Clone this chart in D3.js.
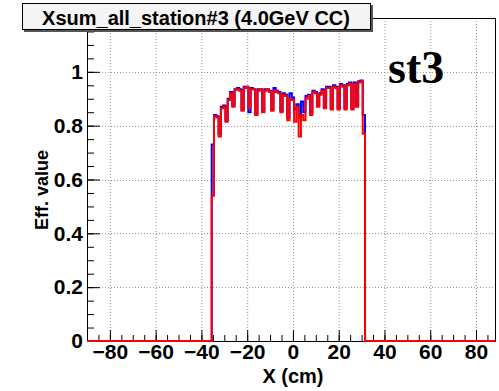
<!DOCTYPE html>
<html>
<head>
<meta charset="utf-8">
<script src="https://cdn.jsdelivr.net/npm/d3@7"></script>
<style>
  body { margin: 0; background: #fff; }
  svg { display: block; }
  text { font-family: "Liberation Sans", Arial, sans-serif; font-weight: bold; }
</style>
</head>
<body>
<svg id="chart" width="499" height="391"></svg>
<script>
// histogram binning (cm)
const binStart = -35.5;
const binWidth = 1;
// efficiency per bin, red = drawn on top, blue = underneath
const redValues = [
  0.54, 0.835, 0.83, 0.76, 0.865, 0.87, 0.815, 0.895, 0.92, 0.87,
  0.933, 0.935, 0.93, 0.855, 0.94, 0.945, 0.865, 0.935, 0.935, 0.84,
  0.93, 0.935, 0.85, 0.93, 0.935, 0.925, 0.855, 0.93, 0.925, 0.92,
  0.85, 0.915, 0.91, 0.82, 0.9, 0.895, 0.815, 0.87, 0.76, 0.84,
  0.82, 0.9, 0.91, 0.84, 0.925, 0.92, 0.87, 0.915, 0.93, 0.865,
  0.94, 0.94, 0.86, 0.945, 0.94, 0.86, 0.95, 0.945, 0.86, 0.95,
  0.955, 0.86, 0.955, 0.87, 0.96, 0.965, 0.77
];
const blueValues = [
  0.73, 0.84, 0.835, 0.77, 0.87, 0.875, 0.82, 0.9, 0.925, 0.875,
  0.935, 0.94, 0.935, 0.86, 0.945, 0.945, 0.85, 0.94, 0.935, 0.845,
  0.935, 0.935, 0.855, 0.935, 0.935, 0.93, 0.86, 0.94, 0.93, 0.925,
  0.855, 0.92, 0.915, 0.83, 0.92, 0.905, 0.86, 0.88, 0.83, 0.89,
  0.85, 0.91, 0.915, 0.85, 0.93, 0.925, 0.875, 0.92, 0.935, 0.87,
  0.945, 0.945, 0.865, 0.95, 0.945, 0.865, 0.955, 0.95, 0.865, 0.955,
  0.96, 0.865, 0.96, 0.875, 0.965, 0.968, 0.84
];
const xTicks = [-80, -60, -40, -20, 0, 20, 40, 60, 80];
const yTicks = [0, 0.2, 0.4, 0.6, 0.8, 1];
const titleText = "Xsum_all_station#3 (4.0GeV CC)";

const svg = d3.select("#chart");
const frame = {left: 87, right: 495, top: 18, bottom: 341};

const x = d3.scaleLinear().domain([-90, 88.3]).range([frame.left, frame.right]);
const y = d3.scaleLinear().domain([0, 1.2]).range([frame.bottom, frame.top]);

// grid
const grid = svg.append("g").attr("stroke", "#999").attr("stroke-width", 1)
    .attr("stroke-dasharray", "1,2");
grid.selectAll(".gx").data(xTicks).enter().append("line")
    .attr("x1", d => x(d) + 0.5).attr("x2", d => x(d) + 0.5)
    .attr("y1", frame.top).attr("y2", frame.bottom);
grid.selectAll(".gy").data(yTicks.filter(d => d > 0)).enter().append("line")
    .attr("x1", frame.left).attr("x2", frame.right)
    .attr("y1", d => Math.round(y(d)) + 0.5).attr("y2", d => Math.round(y(d)) + 0.5);

// frame
svg.append("rect")
    .attr("x", frame.left + 0.5).attr("y", frame.top + 0.5)
    .attr("width", frame.right - frame.left).attr("height", frame.bottom - frame.top)
    .attr("fill", "none").attr("stroke", "#000").attr("stroke-width", 1);

// axes
const xMinor = d3.range(-90, 89, 5);
svg.append("g").attr("transform", `translate(0,${frame.bottom})`)
    .call(d3.axisBottom(x).tickValues(xMinor).tickSize(-6).tickFormat(""))
    .call(g => g.select(".domain").remove());
svg.append("g").attr("transform", `translate(0,${frame.bottom})`)
    .call(d3.axisBottom(x).tickValues(xTicks).tickSize(-11).tickPadding(3))
    .call(g => g.select(".domain").attr("stroke", "#000"))
    .call(g => g.selectAll("text").attr("font-size", 21).attr("fill", "#000"));

const yMinor = d3.range(0, 1.2001, 0.05);
svg.append("g").attr("transform", `translate(${frame.left},0)`)
    .call(d3.axisLeft(y).tickValues(yMinor).tickSize(-7).tickFormat(""))
    .call(g => g.select(".domain").remove());
svg.append("g").attr("transform", `translate(${frame.left},0)`)
    .call(d3.axisLeft(y).tickValues(yTicks).tickSize(-13).tickPadding(4)
        .tickFormat(d => d === 0 ? "0" : d === 1 ? "1" : d3.format(".1f")(d)))
    .call(g => g.select(".domain").attr("stroke", "#000"))
    .call(g => g.selectAll("text").attr("font-size", 21).attr("fill", "#000"));

// histogram outlines
function outline(values) {
  const pts = [[x.domain()[0], 0], [binStart, 0]];
  values.forEach((v, i) => {
    pts.push([binStart + i * binWidth, v]);
    pts.push([binStart + (i + 1) * binWidth, v]);
  });
  const end = binStart + values.length * binWidth;
  pts.push([end, 0], [x.domain()[1], 0]);
  return pts;
}
const line = d3.line().x(d => x(d[0])).y(d => y(d[1]));
svg.append("path").datum(outline(blueValues))
    .attr("d", line).attr("fill", "none").attr("stroke", "#0000ff").attr("stroke-width", 2);
svg.append("path").datum(outline(redValues))
    .attr("d", line).attr("fill", "none").attr("stroke", "#ff0000").attr("stroke-width", 2);

// axis titles
svg.append("text").attr("x", x(0)).attr("y", 383).attr("text-anchor", "middle")
    .attr("font-size", 20).text("X (cm)");
svg.append("text").attr("transform", "translate(48,190) rotate(-90)")
    .attr("text-anchor", "middle").attr("font-size", 18).text("Eff. value");

// title box
svg.append("rect").attr("x", 24).attr("y", 5).attr("width", 349).attr("height", 27)
    .attr("fill", "#555");
svg.append("rect").attr("x", 22.5).attr("y", 3.5).attr("width", 348).attr("height", 26)
    .attr("fill", "#f4f4f4").attr("stroke", "#000").attr("stroke-width", 1);
svg.append("text").attr("x", 196).attr("y", 25).attr("text-anchor", "middle")
    .attr("font-size", 20).text(titleText);

// station label
svg.append("text").attr("x", 388).attr("y", 83)
    .style("font-family", "'Liberation Serif', 'Times New Roman', serif")
    .attr("font-size", 46).text("st3");
</script>
</body>
</html>
